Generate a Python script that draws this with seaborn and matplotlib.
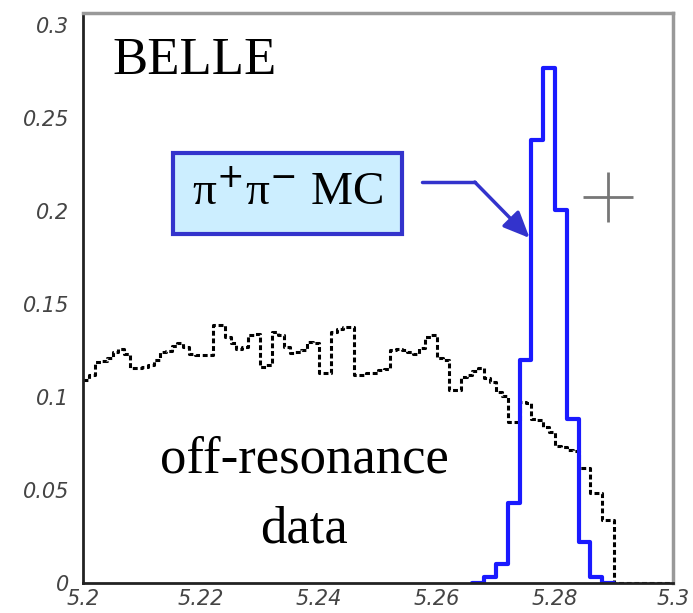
import numpy as np
import pandas as pd
import matplotlib
matplotlib.use("Agg")
import matplotlib.pyplot as plt
import seaborn as sns

# ---- data ----
# off-resonance data, bins of 0.001 starting at 5.200
offres_start = 5.200
offres_width = 0.001
offres_values = [
    0.109, 0.112, 0.119, 0.1196, 0.121, 0.1244, 0.1256, 0.123, 0.1154, 0.1154,
    0.116, 0.117, 0.120, 0.124, 0.125, 0.1274, 0.129, 0.127, 0.123, 0.1224,
    0.1224, 0.1224, 0.1387, 0.1387, 0.1324, 0.129, 0.126, 0.127, 0.1333, 0.134,
    0.1163, 0.117, 0.135,
    0.1333, 0.127, 0.1235, 0.1244, 0.1253, 0.1297, 0.129, 0.1127, 0.1127, 0.135,
    0.1364, 0.1378, 0.1375, 0.1118, 0.1118, 0.1127, 0.113, 0.1145, 0.115, 0.1253,
    0.1256, 0.1253, 0.1244, 0.123, 0.1263, 0.1324, 0.1333, 0.1208, 0.120, 0.1038,
    0.1038, 0.111, 0.1118,
    0.114, 0.1154, 0.110, 0.1082, 0.1029, 0.1005, 0.0867, 0.0867, 0.0975, 0.097,
    0.088, 0.0875, 0.084, 0.0814, 0.0737, 0.073, 0.0715, 0.071, 0.0617, 0.0617,
    0.0486, 0.0486, 0.0339, 0.0339,
    0.0, 0.0, 0.0, 0.0, 0.0, 0.0, 0.0, 0.0, 0.0, 0.0,
]

# pi+ pi- MC, bins of 0.002 starting at 5.266 (zero pads at both ends)
mc_start = 5.266
mc_width = 0.002
mc_values = [0.0, 0.003, 0.010, 0.043, 0.120, 0.238, 0.277, 0.2005, 0.088, 0.022, 0.003, 0.0]

x_ticks = [5.2, 5.22, 5.24, 5.26, 5.28, 5.3]
x_tick_labels = ["5.2", "5.22", "5.24", "5.26", "5.28", "5.3"]
y_ticks = [0, 0.05, 0.1, 0.15, 0.2, 0.25, 0.3]
y_tick_labels = ["0", "0.05", "0.1", "0.15", "0.2", "0.25", "0.3"]

# ---- build tables ----
off_edges = [float(v) for v in offres_start + offres_width * np.arange(len(offres_values) + 1)]
off_df = pd.DataFrame({"mbc": [(a + b) / 2 for a, b in zip(off_edges[:-1], off_edges[1:])],
                       "w": offres_values})
mc_edges = [float(v) for v in mc_start + mc_width * np.arange(len(mc_values) + 1)]
mc_df = pd.DataFrame({"mbc": [(a + b) / 2 for a, b in zip(mc_edges[:-1], mc_edges[1:])],
                      "w": mc_values})

sns.set_style("white")
plt.rcParams["font.family"] = ["DejaVu Sans"]

fig = plt.figure(figsize=(6.93, 6.13), dpi=100)
ax = fig.add_axes([83 / 693, 1 - 583 / 613, (673 - 83) / 693, (583 - 13) / 613])

sns.histplot(data=off_df, x="mbc", weights="w", bins=off_edges,
             element="step", fill=False, color="black", linewidth=2.2,
             linestyle=(0, (1.6, 0.9)), ax=ax)
sns.histplot(data=mc_df, x="mbc", weights="w", bins=mc_edges,
             element="step", fill=False, color="#1a1aff", linewidth=3.0,
             ax=ax)

ax.set_xlim(5.2, 5.3)
ax.set_ylim(0, 0.3065)
ax.set_xlabel("")
ax.set_ylabel("")

ax.set_xticks(x_ticks)
ax.set_xticklabels(x_tick_labels)
ax.set_yticks(y_ticks)
ax.set_yticklabels(y_tick_labels)
ax.set_xticks(np.arange(5.2, 5.3001, 0.005), minor=True)
ax.set_yticks(np.arange(0, 0.3001, 0.01), minor=True)
ax.tick_params(axis="both", which="major", direction="in", length=10,
               width=1.5, color="#333333", labelsize=15, labelcolor="#444444")
ax.tick_params(axis="both", which="minor", direction="in", length=5,
               width=1.2, color="#333333")
ax.tick_params(axis="y", pad=10)
ax.tick_params(axis="x", pad=4)
for lab in ax.get_xticklabels() + ax.get_yticklabels():
    lab.set_fontstyle("italic")

for side in ["left", "bottom"]:
    ax.spines[side].set_color("#222222")
    ax.spines[side].set_linewidth(2)
for side in ["top", "right"]:
    ax.spines[side].set_color("#999999")
    ax.spines[side].set_linewidth(2.5)

serif = ["Liberation Serif", "DejaVu Serif"]
ax.text(0.05, 0.915, "BELLE", transform=ax.transAxes, fontsize=38,
        family=serif, ha="left", va="center", color="black")

ax.text(5.2346, 0.2095, "π$^{+}$π$^{-}$ MC", fontsize=34, family=serif,
        ha="center", va="center", color="black",
        bbox=dict(boxstyle="square,pad=0.4", facecolor="#cceeff",
                  edgecolor="#3333cc", linewidth=3))

ax.plot([5.2575, 5.2664], [0.2156, 0.2156], color="#3333cc", lw=2.5)
ax.annotate("", xy=(5.2757, 0.1855), xytext=(5.2664, 0.2156),
            arrowprops=dict(arrowstyle="-|>,head_length=1.6,head_width=0.7",
                            color="#3333cc", lw=2.5, shrinkA=0, shrinkB=0))

ax.plot([5.2890], [0.2075], marker="+", markersize=36, mew=2,
        color="#777777")

ax.text(5.2375, 0.0665, "off-resonance", fontsize=38, family=serif,
        ha="center", va="center", color="black")
ax.text(5.2375, 0.0285, "data", fontsize=38, family=serif,
        ha="center", va="center", color="black")

fig.savefig("out.png", dpi=100)
